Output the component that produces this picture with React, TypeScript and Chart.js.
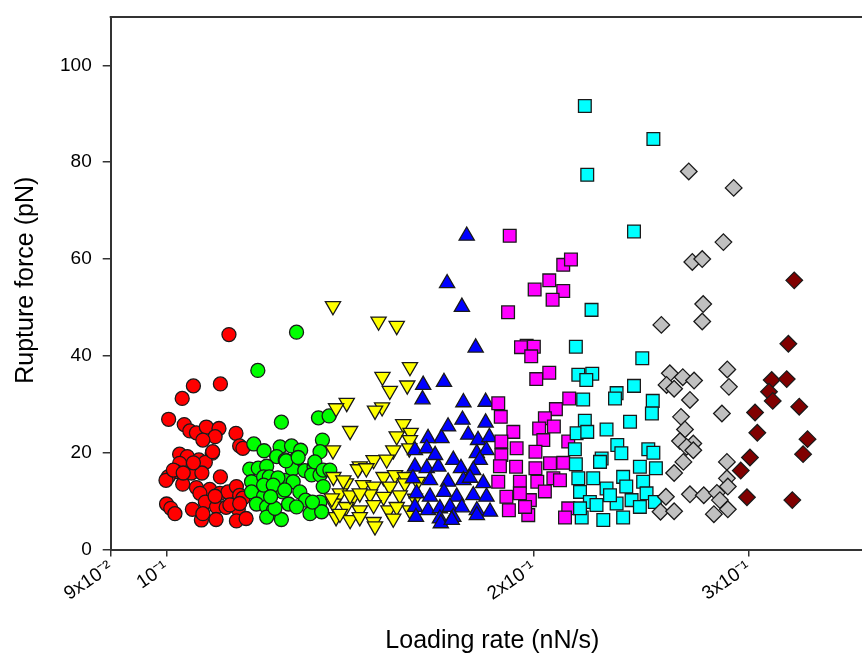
import React, { useEffect, useRef } from "react";
import { Chart, registerables } from "chart.js";

Chart.register(...registerables);

const xTitle = "Loading rate (nN/s)";
const yTitle = "Rupture force (pN)";
const xTickValues = [0.09, 0.1, 0.2, 0.3];
const xTickLabels = ["9x10⁻²", "10⁻¹", "2x10⁻¹", "3x10⁻¹"];
const yTickValues = [0, 20, 40, 60, 80, 100];

const redPoints: [number, number][] = [
  [0.1125, 44.4], [0.1052, 33.8], [0.1107, 34.2], [0.103, 31.2], [0.1004, 26.9], [0.1034, 25.8], [0.1045, 24.5], [0.1058, 24.1],
  [0.1078, 25.3], [0.1104, 25.0], [0.1096, 23.3], [0.1071, 22.6], [0.114, 24.0], [0.1148, 21.4], [0.1155, 20.9], [0.109, 19.9],
  [0.1025, 19.7], [0.104, 19.2], [0.1063, 18.5], [0.1076, 18.0], [0.1025, 17.8], [0.1018, 16.1], [0.1048, 15.8], [0.1069, 15.8],
  [0.1003, 15.0], [0.0999, 14.3], [0.1031, 13.5], [0.1107, 15.0], [0.1058, 12.8], [0.1085, 12.4], [0.1065, 11.6], [0.1106, 11.6],
  [0.1123, 11.9], [0.1141, 13.0], [0.1148, 11.2], [0.1076, 9.8], [0.1099, 8.8], [0.1119, 8.7], [0.1145, 8.3], [0.1, 9.4],
  [0.1008, 8.5], [0.1016, 7.4], [0.105, 8.3], [0.1068, 6.1], [0.1098, 6.2], [0.1141, 5.9], [0.1162, 6.4], [0.1091, 20.2],
  [0.1052, 17.9], [0.1013, 16.4], [0.1096, 11.0], [0.1155, 10.6], [0.1127, 9.2], [0.1148, 9.5], [0.1071, 7.4], [0.1032, 15.8],
];

const greenPoints: [number, number][] = [
  [0.1278, 44.9], [0.1188, 37.0], [0.1242, 26.3], [0.1332, 27.2], [0.1359, 27.6], [0.1342, 22.6], [0.1179, 21.8], [0.1202, 20.4],
  [0.1239, 21.2], [0.1266, 21.4], [0.1288, 20.5], [0.1336, 20.2], [0.1231, 19.2], [0.1251, 18.5], [0.1278, 18.8], [0.117, 16.6],
  [0.1189, 16.8], [0.1208, 17.2], [0.1268, 16.6], [0.1298, 16.3], [0.1321, 17.1], [0.1174, 14.0], [0.1201, 15.0], [0.1214, 15.0],
  [0.125, 14.3], [0.127, 14.0], [0.1315, 15.4], [0.1336, 15.4], [0.1174, 11.9], [0.1201, 11.0], [0.1223, 11.9], [0.1245, 11.9],
  [0.1286, 11.9], [0.13, 10.2], [0.1185, 9.4], [0.1208, 8.8], [0.1223, 8.1], [0.1259, 9.4], [0.1278, 8.8], [0.1311, 7.4],
  [0.1336, 9.8], [0.1208, 6.7], [0.1242, 6.2], [0.134, 7.8], [0.1253, 18.3], [0.1282, 19.0], [0.1323, 18.1], [0.1344, 16.4],
  [0.1361, 16.4], [0.1234, 14.8], [0.1344, 13.0], [0.1201, 13.3], [0.1223, 13.3], [0.125, 12.3], [0.1227, 8.5], [0.1217, 10.9],
  [0.1317, 9.8],
];

const yellowPoints: [number, number][] = [
  [0.1369, 50.3], [0.1492, 47.1], [0.1544, 46.2], [0.1583, 37.7], [0.1503, 35.7], [0.1575, 33.9], [0.1524, 32.8], [0.1405, 30.3],
  [0.1377, 29.2], [0.1502, 29.4], [0.1482, 28.7], [0.1414, 24.5], [0.1563, 25.9], [0.1585, 24.1], [0.1544, 23.4], [0.1583, 22.6],
  [0.1369, 20.5], [0.1534, 20.5], [0.1581, 20.9], [0.144, 17.2], [0.1478, 18.5], [0.1515, 18.6], [0.1435, 16.6], [0.1458, 16.8],
  [0.1506, 15.0], [0.1539, 15.4], [0.1568, 15.0], [0.1403, 13.7], [0.1449, 13.3], [0.1478, 13.0], [0.1524, 13.0], [0.1568, 13.7],
  [0.1387, 11.6], [0.1423, 10.9], [0.1468, 11.4], [0.1506, 10.9], [0.1553, 11.2], [0.137, 9.5], [0.1403, 8.8], [0.144, 8.1],
  [0.1478, 9.2], [0.152, 8.1], [0.1544, 8.8], [0.1583, 8.1], [0.1377, 6.7], [0.1414, 6.1], [0.1478, 5.7], [0.1534, 6.4],
  [0.1482, 4.8], [0.137, 15.0], [0.1396, 14.3], [0.1366, 10.6], [0.1414, 11.2], [0.144, 11.6], [0.1387, 7.4], [0.144, 6.7],
  [0.1598, 10.5], [0.1606, 14.0],
];

const bluePoints: [number, number][] = [
  [0.1762, 64.8], [0.1698, 55.0], [0.1746, 50.1], [0.1792, 41.7], [0.1623, 34.0], [0.1688, 34.6], [0.1621, 31.0], [0.1751, 30.4],
  [0.1826, 30.5], [0.1748, 26.8], [0.1826, 26.2], [0.1701, 25.4], [0.168, 23.0], [0.1638, 23.0], [0.1767, 23.7], [0.18, 22.6],
  [0.1839, 23.2], [0.1598, 20.5], [0.1634, 20.9], [0.1796, 19.9], [0.1829, 20.5], [0.1718, 18.5], [0.1806, 18.5], [0.1598, 17.1],
  [0.1634, 16.8], [0.167, 17.1], [0.1743, 16.8], [0.1784, 16.4], [0.1592, 14.7], [0.1644, 14.3], [0.1701, 14.0], [0.1751, 14.3],
  [0.1818, 13.7], [0.1603, 11.6], [0.1644, 10.9], [0.1688, 11.9], [0.1729, 10.9], [0.1784, 11.2], [0.1829, 10.9], [0.1598, 8.8],
  [0.1638, 8.1], [0.1675, 8.5], [0.1707, 8.8], [0.1746, 8.7], [0.1796, 8.1], [0.1841, 7.8], [0.1601, 6.7], [0.1675, 6.4],
  [0.1718, 6.7], [0.1796, 7.1], [0.1678, 5.4], [0.1713, 6.1], [0.166, 19.5], [0.1773, 14.8],
];

const magentaPoints: [number, number][] = [
  [0.1911, 64.8], [0.2114, 58.8], [0.2145, 59.9], [0.2059, 55.6], [0.2114, 53.4], [0.2072, 51.6], [0.2003, 53.7], [0.1905, 49.0],
  [0.1973, 42.1], [0.1952, 41.8], [0.2, 41.9], [0.199, 39.9], [0.2009, 35.2], [0.2059, 36.5], [0.2138, 31.2], [0.187, 30.2],
  [0.1879, 27.4], [0.2085, 29.0], [0.2042, 27.1], [0.202, 25.0], [0.2077, 25.4], [0.1924, 24.3], [0.1881, 22.3], [0.2036, 22.6],
  [0.2134, 22.3], [0.1936, 20.9], [0.1881, 19.5], [0.2006, 20.2], [0.1876, 17.2], [0.1934, 17.1], [0.2006, 16.8], [0.2062, 17.8],
  [0.2114, 17.9], [0.187, 14.0], [0.1948, 14.0], [0.2013, 14.0], [0.2075, 14.7], [0.2101, 14.3], [0.1899, 10.9], [0.1985, 10.2],
  [0.1948, 11.6], [0.1908, 8.1], [0.1979, 7.1], [0.1967, 8.8], [0.2134, 8.5], [0.2121, 6.6], [0.2042, 12.0],
];

const cyanPoints: [number, number][] = [
  [0.2202, 91.6], [0.2506, 84.8], [0.2212, 77.4], [0.2416, 65.7], [0.223, 49.5], [0.2165, 41.9], [0.2454, 39.5], [0.2175, 36.1],
  [0.2233, 36.3], [0.2208, 35.0], [0.2416, 33.8], [0.2338, 32.3], [0.2331, 31.2], [0.2195, 31.0], [0.2503, 30.7], [0.2499, 28.1],
  [0.2398, 26.4], [0.2202, 26.6], [0.2168, 24.0], [0.2212, 24.3], [0.2294, 24.8], [0.2341, 21.6], [0.2359, 19.9], [0.2161, 20.7],
  [0.2165, 17.6], [0.2273, 18.8], [0.2266, 18.1], [0.2482, 20.7], [0.2506, 20.0], [0.2443, 17.1], [0.2518, 16.8], [0.2175, 14.7],
  [0.2237, 14.7], [0.2294, 12.6], [0.2367, 15.0], [0.2458, 14.0], [0.2182, 11.9], [0.2223, 9.8], [0.2251, 9.2], [0.2338, 9.5],
  [0.2405, 10.2], [0.2474, 11.6], [0.2513, 9.8], [0.2189, 6.6], [0.228, 6.1], [0.2367, 6.6], [0.2443, 8.8], [0.2381, 13.0],
  [0.2182, 8.5], [0.2309, 11.2],
];

const grayPoints: [number, number][] = [
  [0.2679, 78.1], [0.2916, 74.7], [0.286, 63.5], [0.2697, 59.4], [0.2748, 60.0], [0.2753, 50.7], [0.2748, 47.1], [0.2544, 46.4],
  [0.2881, 37.2], [0.289, 33.6], [0.2585, 36.4], [0.2649, 35.6], [0.2706, 34.9], [0.2569, 34.0], [0.2606, 33.2], [0.2685, 30.9],
  [0.2852, 28.1], [0.264, 27.4], [0.266, 24.8], [0.2635, 22.4], [0.2702, 21.9], [0.2668, 21.2], [0.2702, 20.5], [0.2652, 18.1],
  [0.2606, 15.8], [0.2879, 18.1], [0.2879, 14.7], [0.2884, 13.0], [0.2566, 10.9], [0.2685, 11.4], [0.2756, 11.2], [0.2825, 11.7],
  [0.2841, 10.2], [0.254, 7.8], [0.2606, 7.9], [0.2809, 7.3], [0.2884, 8.3],
];

const darkRedPoints: [number, number][] = [
  [0.3269, 55.6], [0.3233, 42.5], [0.3133, 35.0], [0.3223, 35.2], [0.3117, 32.6], [0.3139, 30.7], [0.3036, 28.3], [0.33, 29.5],
  [0.3049, 24.1], [0.3352, 22.8], [0.3324, 19.7], [0.3007, 19.0], [0.2955, 16.3], [0.299, 10.8], [0.3257, 10.2],
];

const FONT = "Arial, 'Liberation Sans', sans-serif";
const AXIS = "#333333";

type SeriesDef = { pts: [number, number][]; color: string; style: string; radius: number; rotation?: number };
const seriesDefs: SeriesDef[] = [
  { pts: redPoints, color: "#ff0000", style: "circle", radius: 7 },
  { pts: greenPoints, color: "#00ff00", style: "circle", radius: 7 },
  { pts: yellowPoints, color: "#ffff00", style: "triangle", radius: 8.8, rotation: 180 },
  { pts: bluePoints, color: "#0000ff", style: "triangle", radius: 8.8 },
  { pts: magentaPoints, color: "#ff00ff", style: "rect", radius: 9 },
  { pts: cyanPoints, color: "#00ffff", style: "rect", radius: 9 },
  { pts: grayPoints, color: "#c0c0c0", style: "rectRot", radius: 8.3 },
  { pts: darkRedPoints, color: "#800000", style: "rectRot", radius: 8.3 },
];

const decorPlugin = {
  id: "decor",
  afterDraw(chart: any) {
    const { ctx, chartArea } = chart;
    ctx.save();
    ctx.strokeStyle = AXIS;
    ctx.lineWidth = 2;
    ctx.beginPath();
    ctx.moveTo(chartArea.left - 1, chartArea.top);
    ctx.lineTo(chartArea.right, chartArea.top);
    ctx.stroke();
    ctx.fillStyle = "#000";
    ctx.font = `25px ${FONT}`;
    ctx.textAlign = "center";
    ctx.textBaseline = "alphabetic";
    ctx.fillText(xTitle, (chartArea.left + chartArea.right) / 2, chartArea.bottom + 98);
    ctx.translate(33, (chartArea.top + chartArea.bottom) / 2 - 3);
    ctx.rotate(-Math.PI / 2);
    ctx.fillText(yTitle, 0, 0);
    ctx.restore();
  },
};

export default function App() {
  const ref = useRef<HTMLCanvasElement | null>(null);
  useEffect(() => {
    if (!ref.current) return;
    const chart = new Chart(ref.current, {
      type: "scatter",
      data: {
        datasets: seriesDefs.map((s, i) => ({
          data: s.pts.map(([x, y]) => ({ x, y })),
          pointStyle: s.style as any,
          rotation: s.rotation || 0,
          pointRadius: s.radius,
          pointHoverRadius: s.radius,
          pointBackgroundColor: s.color,
          pointBorderColor: "#1a1a1a",
          pointBorderWidth: 1.3,
          showLine: false,
          order: 20 - i,
        })),
      },
      options: {
        animation: false,
        responsive: false,
        events: [],
        layout: { padding: { left: 0, top: 17, right: 26, bottom: 0 } },
        plugins: { legend: { display: false }, tooltip: { enabled: false } },
        scales: {
          x: {
            type: "logarithmic",
            position: "bottom",
            min: 0.09,
            max: 0.38,
            afterBuildTicks: (s: any) => {
              s.ticks = xTickValues.map((v) => ({ value: v }));
            },
            afterFit: (s: any) => {
              s.height = 103.5;
              s.paddingLeft = 0;
              s.paddingRight = 0;
            },
            ticks: {
              autoSkip: false,
              minRotation: 34,
              maxRotation: 34,
              padding: 0,
              color: "#000",
              font: { family: FONT, size: 19 },
              callback: (_v: any, i: number) => xTickLabels[i],
            },
            grid: { drawOnChartArea: false, drawTicks: true, tickLength: 7, color: AXIS, lineWidth: 1.5 },
            border: { display: true, color: AXIS, width: 2 },
          },
          y: {
            type: "linear",
            min: 0,
            max: 110,
            afterBuildTicks: (s: any) => {
              s.ticks = yTickValues.map((v) => ({ value: v }));
            },
            afterFit: (s: any) => {
              s.width = 110.7;
              s.paddingTop = 0;
              s.paddingBottom = 0;
            },
            ticks: { padding: 11, color: "#000", font: { family: FONT, size: 19 } },
            grid: { drawOnChartArea: false, drawTicks: true, tickLength: 8, color: AXIS, lineWidth: 1.5 },
            border: { display: true, color: AXIS, width: 2 },
          },
        },
      },
      plugins: [decorPlugin],
    });
    return () => chart.destroy();
  }, []);

  return (
    <div style={{ position: "fixed", left: 0, top: 0, width: 862, height: 653, overflow: "hidden", background: "#fff" }}>
      <canvas ref={ref} width={900} height={653} style={{ display: "block" }} />
    </div>
  );
}
